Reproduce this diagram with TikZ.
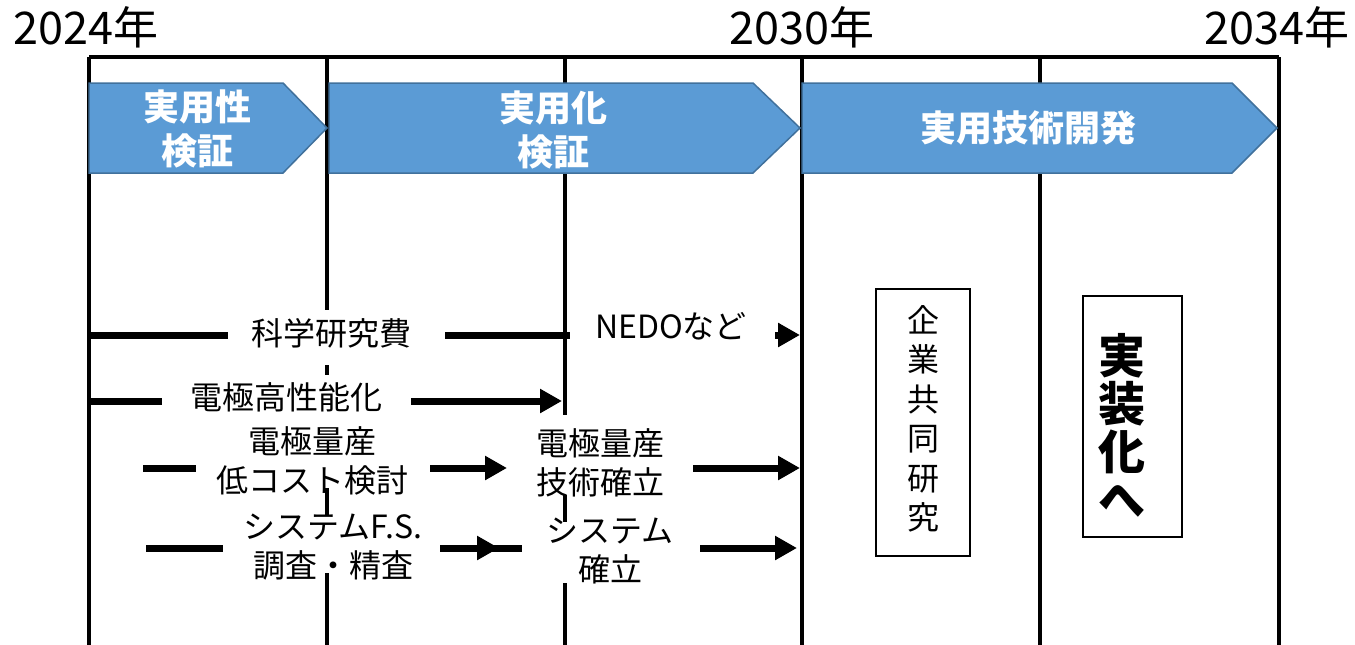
\documentclass[tikz,border=0pt]{standalone}
\usepackage{fontspec}
\setmainfont{Noto Sans CJK JP}
\usetikzlibrary{arrows.meta}
\definecolor{bluefill}{HTML}{5B9BD5}
\definecolor{blueedge}{HTML}{41719C}
\begin{document}
\begin{tikzpicture}[x=1pt,y=-1pt,
  gridline/.style={line width=3.2pt},
  flow/.style={line width=7pt,-{Triangle[length=22pt,width=23pt]}},
  bg/.style={fill=white,inner sep=0pt,outer sep=0pt},
  lbl/.style={inner sep=0pt,align=center,font=\fontsize{32}{39}\selectfont},
  phase/.style={fill=bluefill,draw=blueedge,line width=1.5pt},
  phasetext/.style={text=white,align=center,font=\fontsize{36}{44}\selectfont\bfseries},
  yearlbl/.style={font=\fontsize{45}{48}\selectfont},
  vbox/.style={draw,line width=1.5pt,fill=white}]
\useasboundingbox (0,0) rectangle (1355,645);
% grid coordinates
\foreach \n/\x in {0/89,1/327,2/565,3/802,4/1040,5/1279}{
  \coordinate (t\n) at (\x,57);
  \coordinate (b\n) at (\x,645);
}
\draw[gridline] (t0) -- (t5);
\foreach \n in {0,...,5}{\draw[gridline] (t\n) -- (b\n);}
% year labels
\node[yearlbl] (y2024) at (86,27) {2024年};
\node[yearlbl] (y2030) at (802,27) {2030年};
\node[yearlbl] (y2034) at (1277,27) {2034年};
% phase arrows
\draw[phase] (89,83) -- (283,83) -- (327,128) -- (283,173) -- (89,173) -- cycle;
\draw[phase] (329,83) -- (753,83) -- (800,128) -- (753,173) -- (329,173) -- cycle;
\draw[phase] (802,83) -- (1232,83) -- (1277,128) -- (1232,173) -- (802,173) -- cycle;
\node[phasetext] (p1) at (197,129) {実用性\\検証};
\node[phasetext] (p2) at (553,130) {実用化\\検証};
\node[phasetext] (p3) at (1028,128) {実用技術開発};
% flow coordinates
\coordinate (r1s) at (89,335);  \coordinate (r1e) at (800,335);
\coordinate (r2s) at (89,401);  \coordinate (r2e) at (562,401);
\coordinate (r3s) at (143,468); \coordinate (r3m) at (507,468);
\coordinate (r3n) at (520,468); \coordinate (r3e) at (800,468);
\coordinate (r4s) at (146,548); \coordinate (r4m) at (499,548);
\coordinate (r4n) at (480,548); \coordinate (r4e) at (797,548);
\draw[flow] (r1s) -- (r1e);
\draw[flow] (r2s) -- (r2e);
\draw[flow] (r3s) -- (r3m);
\draw[flow] (r3n) -- (r3e);
\draw[flow] (r4s) -- (r4m);
\draw[flow] (r4n) -- (r4e);
% label backgrounds
\node[bg,minimum width=217pt,minimum height=55pt] (kakenbg) at (336.5,337.5) {};
\node[bg,minimum width=205pt,minimum height=47pt] (nedobg) at (672.5,328.5) {};
\node[bg,minimum width=249pt,minimum height=45pt] (koseinobg) at (286.5,397.5) {};
\node[bg,minimum width=234pt,minimum height=68pt] (ryosan1bg) at (313,454) {};
\node[bg,minimum width=217pt,minimum height=58pt] (fsbg) at (331.5,544) {};
\node[bg,minimum width=178pt,minimum height=80pt] (ryosan2bg) at (604,455) {};
\node[bg,minimum width=178pt,minimum height=61pt] (kakuritsubg) at (611,552.5) {};
% labels
\node[lbl] (kaken) at (331,333) {科学研究費};
\node[lbl] (nedo) at (671,326) {NEDOなど};
\node[lbl] (koseino) at (286,397) {電極高性能化};
\node[lbl] (ryosan1) at (312,461) {電極量産\\低コスト検討};
\node[lbl] (fs) at (333,547) {システムF.S.\\調査・精査};
\node[lbl] (ryosan2) at (600,463) {電極量産\\技術確立};
\node[lbl] (kakuritsu) at (610,551) {システム\\確立};
% vertical boxes
\node[vbox,minimum width=94pt,minimum height=267pt] (kigyobox) at (923,422.5) {};
\node[align=center,inner sep=0pt,font=\fontsize{32}{39.5}\selectfont] (kigyo) at (923,419) {企\\業\\共\\同\\研\\究};
\node[vbox,minimum width=99pt,minimum height=241pt] (jissoubox) at (1132.5,416.5) {};
\node[align=center,inner sep=0pt,font=\fontsize{47}{48}\selectfont\bfseries] (jissou) at (1122,425) {実\\装\\化\\へ};
\end{tikzpicture}
\end{document}
